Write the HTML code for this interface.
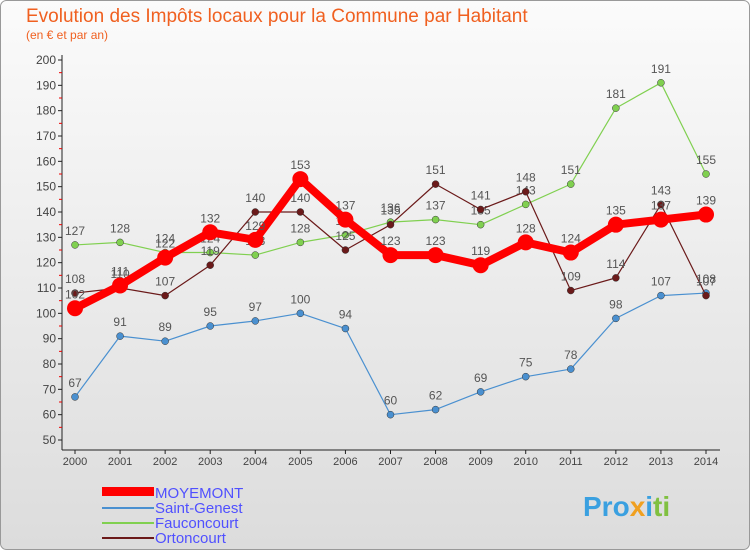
<!DOCTYPE html>
<html><head><meta charset="utf-8"><style>
body{margin:0;background:#fff;font-family:"Liberation Sans","DejaVu Sans",sans-serif}
svg text{font-family:"Liberation Sans","DejaVu Sans",sans-serif}
</style></head><body>
<svg id="c" width="750" height="550" viewBox="0 0 750 550" xmlns="http://www.w3.org/2000/svg">
<defs><linearGradient id="bg" x1="0" y1="0" x2="0" y2="1"><stop offset="0" stop-color="#fbfbfb"/><stop offset="1" stop-color="#dcdcdc"/></linearGradient></defs>
<rect x="0.5" y="0.5" width="749" height="549" rx="6" fill="url(#bg)" stroke="#999"/>
<text x="26" y="22" font-size="19" fill="#f06020">Evolution des Impôts locaux pour la Commune par Habitant</text>
<text x="26" y="39" font-size="12" fill="#f06020">(en € et par an)</text>
<g id="axes"></g><g id="series"></g>
<g>
<rect x="102" y="487" width="52" height="9" fill="#ff0000"/>
<text x="155" y="498" font-size="15" fill="#5050ff">MOYEMONT</text>
<rect x="102" y="507" width="52" height="2" fill="#4a90d0"/>
<text x="155" y="513" font-size="15" fill="#5050ff">Saint-Genest</text>
<rect x="102" y="522" width="52" height="2" fill="#80d050"/>
<text x="155" y="528" font-size="15" fill="#5050ff">Fauconcourt</text>
<rect x="102" y="537" width="52" height="2" fill="#6b1a1a"/>
<text x="155" y="543" font-size="15" fill="#5050ff">Ortoncourt</text>
</g>
<text x="583" y="516" font-size="28" font-weight="bold" fill="#3aa0e0">Pro<tspan fill="#f0a020">x</tspan><tspan fill="#3aa0e0">i</tspan><tspan fill="#80c040">ti</tspan></text>
</svg>
<script>
const years=[2000,2001,2002,2003,2004,2005,2006,2007,2008,2009,2010,2011,2012,2013,2014];
const moyemont=[102,111,122,132,129,153,137,123,123,119,128,124,135,137,139];
const saintGenest=[67,91,89,95,97,100,94,60,62,69,75,78,98,107,108];
const fauconcourt=[127,128,124,124,123,128,131,136,137,135,143,151,181,191,155];
const ortoncourt=[108,110,107,119,140,140,125,135,151,141,148,109,114,143,107];
const yTicks=[50,60,70,80,90,100,110,120,130,140,150,160,170,180,190,200];
const NS='http://www.w3.org/2000/svg';
const X=i=>75+i*(631/14);
const Y=v=>440-(v-50)*380/150;
function mk(t,a,p){const e=document.createElementNS(NS,t);for(const k in a)e.setAttribute(k,a[k]);p.appendChild(e);return e;}
const ax=document.getElementById('axes');
const yl=mk('line',{x1:62,y1:55,x2:62,y2:450,stroke:'#222'},ax);


const xl=mk('line',{x1:62,y1:450,x2:720,y2:450,stroke:'#222'},ax);


yTicks.forEach(v=>{
 mk('line',{x1:58,y1:Y(v),x2:62,y2:Y(v),stroke:'#222'},ax);
 if(v<200)mk('line',{x1:59,y1:Y(v+5),x2:62,y2:Y(v+5),stroke:'#e00'},ax);
 const t=mk('text',{x:56,y:Y(v)+4,'font-size':12,fill:'#444','text-anchor':'end'},ax);t.textContent=v;
 
 
});
years.forEach((y,i)=>{
 mk('line',{x1:X(i),y1:450,x2:X(i),y2:454,stroke:'#222'},ax);
 const t=mk('text',{x:X(i),y:465,'font-size':11,fill:'#444','text-anchor':'middle'},ax);t.textContent=y;
 
 
});
const sg=document.getElementById('series');
function draw(vals,color,w,r,name){
 const g=mk('g',{},sg);
 
 
 mk('polyline',{points:vals.map((v,i)=>X(i)+','+Y(v)).join(' '),fill:'none',stroke:color,'stroke-width':w,'stroke-linejoin':'round'},g);
 vals.forEach((v,i)=>{
  const c=mk('circle',{cx:X(i),cy:Y(v),r:r,fill:color,stroke:w>3?color:'#333','stroke-width':w>3?0:0.5},g);
  
  
  const t=mk('text',{x:X(i),y:Y(v)-10,'font-size':12,fill:'#555','text-anchor':'middle'},g);t.textContent=v;
  
  
 });
}
draw(saintGenest,'#4a90d0',1.2,3.5,'saint-genest');
draw(fauconcourt,'#80d050',1.2,3.5,'fauconcourt');
draw(ortoncourt,'#6b1a1a',1.2,3.5,'ortoncourt');
draw(moyemont,'#ff0000',8,8,'moyemont');
</script>
</body></html>
